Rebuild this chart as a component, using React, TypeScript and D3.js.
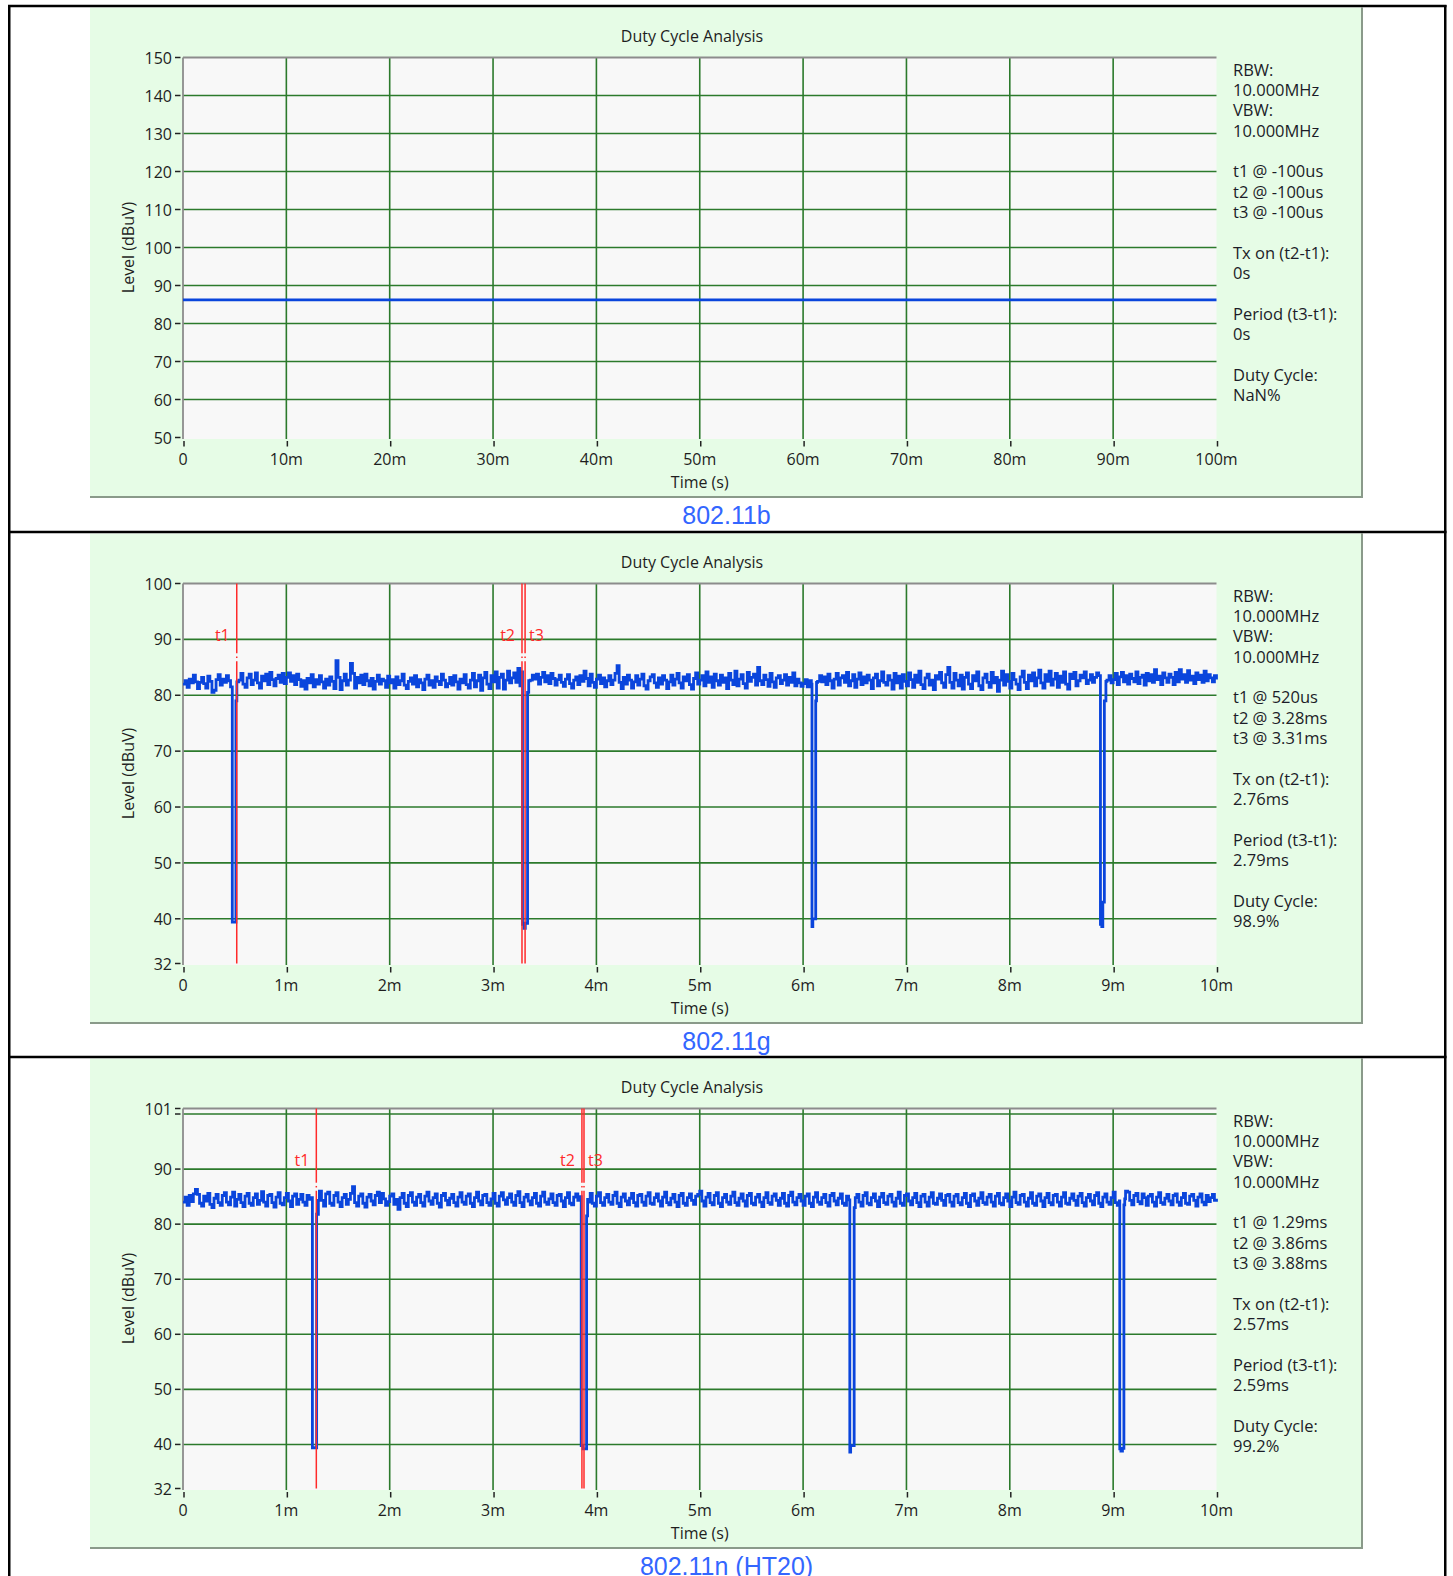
import React from 'react';
import * as d3 from 'd3';

const W = 1453;
const H = 1576;

// ---------- Panel 1 (802.11b) ----------
const p1XTicks = [0, 10, 20, 30, 40, 50, 60, 70, 80, 90, 100];
const p1XLabels = ['0', '10m', '20m', '30m', '40m', '50m', '60m', '70m', '80m', '90m', '100m'];
const p1YTicks = [150, 140, 130, 120, 110, 100, 90, 80, 70, 60, 50];
const p1YLabels = ['150', '140', '130', '120', '110', '100', '90', '80', '70', '60', '50'];
const p1YGrid = [140, 130, 120, 110, 100, 90, 80, 70, 60];
const p1Trace: [number, number][] = [[0, 86.2], [100, 86.2]];
const p1Info = ['RBW:', '10.000MHz', 'VBW:', '10.000MHz', '', 't1 @ -100us', 't2 @ -100us', 't3 @ -100us', '', 'Tx on (t2-t1):', '0s', '', 'Period (t3-t1):', '0s', '', 'Duty Cycle:', 'NaN%'];

// ---------- Panel 2 (802.11g) ----------
const msXTicks = [0, 1, 2, 3, 4, 5, 6, 7, 8, 9, 10];
const msXLabels = ['0', '1m', '2m', '3m', '4m', '5m', '6m', '7m', '8m', '9m', '10m'];
const p2YTicks = [100, 90, 80, 70, 60, 50, 40, 32];
const p2YLabels = ['100', '90', '80', '70', '60', '50', '40', '32'];
const p2YGrid = [90, 80, 70, 60, 50, 40];
const p2SampleStep = 0.02;
const p2Noise = [
  82.0, 82.6, 81.4, 82.9, 82.2, 83.6, 82.4, 81.2, 82.3, 83.2,
  82.1, 81.3, 83.4, 82.5, 80.5, 80.9, 82.8, 83.7, 81.8, 82.9,
  82.3, 83.5, 82.6, 81.5, 82.4, 82.4, 82.4, 82.7, 83.9, 82.0,
  81.4, 83.1, 83.8, 81.9, 82.7, 84.0, 82.2, 81.3, 83.4, 82.6,
  83.8, 81.9, 84.1, 82.8, 81.7, 83.0, 83.6, 82.3, 83.9, 82.1,
  83.2, 84.0, 82.5, 83.5, 81.9, 83.8, 82.8, 81.6, 82.6, 81.1,
  83.0, 82.2, 83.7, 81.5, 82.8, 82.0, 83.5, 82.4, 81.3, 82.9,
  81.8, 83.3, 82.5, 81.2, 86.2, 83.2, 81.0, 82.6, 83.8, 81.8,
  82.7, 85.7, 83.9, 81.3, 83.2, 82.2, 83.6, 81.9, 83.8, 82.6,
  81.7, 83.0, 81.1, 82.5, 83.6, 82.0, 82.9, 82.6, 81.4, 83.4,
  82.2, 82.8, 81.3, 83.3, 81.9, 82.6, 83.8, 81.8, 81.2, 82.5,
  83.1, 82.0, 83.5, 81.5, 82.8, 82.2, 81.0, 82.9, 83.6, 81.8,
  82.6, 81.4, 83.3, 82.5, 81.9, 83.8, 82.7, 81.5, 82.1, 83.2,
  81.8, 83.5, 82.4, 81.1, 82.9, 82.2, 83.7, 81.9, 81.3, 82.7,
  83.9, 81.5, 82.6, 83.6, 80.9, 83.1, 84.1, 82.0, 81.2, 83.5,
  82.4, 84.2, 81.3, 83.2, 83.8, 81.1, 82.7, 84.3, 82.2, 83.1,
  84.0, 82.3, 84.8, 81.7, 84.2, 82.5, 82.5, 82.5, 82.7, 83.6,
  82.9, 83.8, 82.0, 83.2, 84.1, 82.4, 83.5, 82.1, 83.9, 83.0,
  81.8, 82.8, 83.6, 82.3, 81.6, 82.9, 83.7, 82.1, 81.3, 82.7,
  83.3, 81.9, 83.5, 82.5, 84.3, 83.0, 81.7, 83.8, 82.3, 81.4,
  82.9, 83.6, 82.1, 83.1, 81.5, 82.6, 83.5, 81.9, 82.7, 83.9,
  85.3, 82.3, 81.2, 83.2, 82.0, 83.6, 82.7, 81.3, 82.4, 83.5,
  81.8, 82.9, 83.8, 81.7, 81.1, 82.6, 83.3, 83.7, 82.2, 81.4,
  83.1, 82.0, 83.5, 82.7, 81.2, 82.4, 83.6, 81.8, 82.9, 83.9,
  82.2, 81.3, 83.3, 82.6, 83.7, 81.9, 81.1, 83.0, 84.0, 82.0,
  82.7, 83.5, 81.7, 84.2, 82.3, 83.3, 81.4, 83.8, 82.6, 81.8,
  83.6, 82.3, 83.1, 81.2, 83.9, 82.7, 81.9, 84.3, 81.7, 82.9,
  83.7, 82.1, 81.3, 84.1, 82.5, 83.2, 83.8, 81.8, 85.0, 82.6,
  81.9, 83.6, 82.8, 81.6, 83.9, 82.4, 81.4, 83.1, 83.5, 82.1,
  82.7, 83.7, 81.8, 83.2, 82.3, 84.0, 81.7, 82.9, 82.2, 81.6,
  82.1, 82.8, 81.5, 82.6, 82.0, 82.3, 82.3, 82.5, 83.5, 82.4,
  83.3, 81.9, 83.8, 82.6, 81.3, 82.9, 83.9, 81.8, 83.1, 83.5,
  82.3, 84.1, 81.7, 82.6, 83.7, 81.4, 82.9, 84.0, 81.9, 83.3,
  82.2, 83.6, 82.7, 81.2, 83.1, 83.8, 81.7, 82.6, 84.2, 82.3,
  81.8, 83.5, 82.7, 81.1, 83.9, 82.2, 83.4, 81.3, 83.7, 82.5,
  81.7, 84.0, 82.8, 81.4, 83.6, 82.3, 84.3, 81.9, 81.2, 83.1,
  83.8, 81.8, 82.7, 81.0, 83.5, 82.9, 84.1, 82.2, 81.4, 83.7,
  85.0, 82.3, 81.3, 83.9, 82.7, 81.7, 83.6, 81.1, 83.2, 84.0,
  82.0, 81.2, 83.5, 82.6, 84.2, 81.7, 81.0, 83.1, 83.8, 82.3,
  81.4, 84.1, 82.2, 83.2, 80.7, 82.7, 84.3, 81.8, 83.7, 82.5,
  81.3, 83.9, 82.8, 82.0, 81.0, 83.3, 84.3, 82.3, 81.2, 83.6,
  82.6, 84.0, 81.7, 83.1, 84.5, 82.2, 81.3, 83.7, 82.5, 84.3,
  81.8, 82.9, 83.9, 81.4, 83.4, 82.3, 84.2, 82.0, 81.1, 83.8,
  83.0, 84.1, 81.7, 82.6, 83.6, 83.1, 84.2, 82.1, 82.7, 83.7,
  82.3, 83.2, 84.0, 83.5, 82.5, 82.5, 82.5, 82.7, 83.5, 82.2,
  82.8, 83.9, 81.9, 83.3, 84.1, 82.4, 83.5, 82.0, 83.8, 83.0,
  82.4, 84.2, 82.1, 83.2, 83.6, 81.8, 83.9, 82.6, 83.7, 82.3,
  84.6, 82.8, 83.4, 81.9, 84.0, 83.1, 82.3, 83.8, 83.2, 81.9,
  84.1, 82.4, 84.6, 82.9, 83.7, 82.3, 84.4, 82.7, 83.4, 82.1,
  84.0, 82.8, 83.6, 82.3, 84.3, 82.6, 83.7, 83.1, 82.4, 83.5,
  82.8,
];
const p2Dips: [number, number][][] = [
  [[0.477, 39.4], [0.512, 79.0], [0.521, 82.4]],
  [[3.285, 39.0], [3.300, 38.3], [3.312, 39.2], [3.334, 80.5], [3.345, 82.6]],
  [[6.086, 38.6], [6.094, 40.0], [6.122, 79.0], [6.130, 82.3]],
  [[8.877, 39.0], [8.890, 38.6], [8.900, 43.0], [8.915, 79.0], [8.930, 82.5]],
];
const p2Markers = [
  { name: 't1', t: 0.52, side: 'left' },
  { name: 't2', t: 3.28, side: 'left' },
  { name: 't3', t: 3.31, side: 'right' },
];
const p2Info = ['RBW:', '10.000MHz', 'VBW:', '10.000MHz', '', 't1 @ 520us', 't2 @ 3.28ms', 't3 @ 3.31ms', '', 'Tx on (t2-t1):', '2.76ms', '', 'Period (t3-t1):', '2.79ms', '', 'Duty Cycle:', '98.9%'];

// ---------- Panel 3 (802.11n HT20) ----------
const p3YTicks = [101, 100, 90, 80, 70, 60, 50, 40, 32];
const p3YLabels = ['101', '', '90', '80', '70', '60', '50', '40', '32'];
const p3YGrid = [100, 90, 80, 70, 60, 50, 40];
const p3SampleStep = 0.02;
const p3Noise = [
  84.0, 84.9, 83.4, 85.2, 84.1, 85.5, 86.3, 85.4, 83.8, 83.3,
  85.1, 84.2, 85.6, 83.6, 83.0, 84.7, 85.4, 83.9, 83.4, 85.2,
  85.7, 84.0, 83.5, 84.9, 85.8, 83.3, 84.5, 85.4, 83.9, 83.2,
  85.1, 85.6, 83.8, 83.4, 84.8, 85.5, 83.6, 84.3, 85.9, 84.0,
  83.3, 85.2, 85.4, 83.9, 83.1, 84.9, 85.7, 83.8, 83.5, 84.8,
  85.6, 84.2, 83.2, 85.1, 85.5, 83.6, 84.5, 85.4, 84.0, 83.4,
  85.2, 84.5, 84.8, 84.3, 84.3, 84.3, 86.0, 84.3, 83.3, 85.5,
  85.8, 83.8, 83.4, 85.2, 85.7, 84.0, 83.2, 84.8, 85.4, 83.6,
  84.5, 85.6, 86.8, 83.9, 83.3, 85.1, 85.5, 83.8, 83.1, 84.9,
  85.4, 84.2, 83.5, 85.2, 85.8, 83.9, 85.6, 84.6, 83.4, 84.1,
  85.1, 85.5, 83.6, 84.5, 82.7, 84.8, 85.6, 83.8, 83.2, 85.2,
  85.7, 84.0, 83.4, 84.9, 85.4, 83.9, 83.3, 85.1, 85.8, 84.2,
  83.6, 84.8, 85.5, 83.8, 83.1, 85.2, 85.6, 84.3, 83.5, 84.7,
  85.4, 83.9, 83.3, 84.9, 85.7, 84.0, 83.6, 85.1, 85.5, 83.8,
  83.2, 84.8, 85.8, 84.2, 83.5, 85.2, 85.4, 83.9, 83.4, 84.6,
  85.6, 83.8, 83.3, 85.1, 85.7, 84.4, 83.6, 84.8, 85.5, 84.0,
  83.4, 85.2, 85.9, 83.9, 83.2, 84.9, 85.4, 84.2, 83.5, 84.8,
  85.6, 83.8, 83.3, 85.1, 85.8, 84.0, 83.6, 84.6, 85.5, 83.9,
  83.4, 85.2, 85.4, 84.2, 83.2, 84.8, 85.7, 83.8, 83.5, 84.9,
  85.5, 84.3, 85.0, 84.5, 84.5, 84.5, 84.0, 85.6, 83.8, 83.3,
  85.1, 85.7, 83.9, 83.4, 84.8, 85.4, 84.0, 83.6, 85.2, 85.8,
  83.8, 83.2, 84.9, 85.5, 84.2, 83.5, 84.7, 85.6, 83.9, 83.3,
  85.2, 85.4, 84.0, 83.4, 85.1, 85.7, 83.8, 83.6, 84.8, 85.5,
  84.2, 83.3, 84.9, 85.8, 83.9, 83.5, 84.7, 85.4, 84.0, 83.2,
  85.2, 85.6, 83.8, 83.4, 84.8, 85.5, 84.3, 83.6, 85.1, 85.4,
  86.0, 84.2, 83.3, 84.9, 85.6, 83.9, 83.5, 85.2, 85.7, 83.8,
  83.2, 84.8, 85.4, 84.0, 83.6, 85.1, 85.8, 83.9, 83.4, 84.7,
  85.5, 84.2, 83.3, 85.2, 85.6, 83.8, 83.5, 84.9, 85.4, 84.0,
  83.2, 84.8, 85.7, 83.9, 83.6, 85.1, 85.5, 84.3, 83.4, 84.7,
  85.6, 83.8, 83.3, 85.2, 85.8, 84.0, 83.5, 84.8, 85.4, 84.2,
  83.4, 85.1, 85.5, 83.8, 83.2, 84.9, 85.7, 84.0, 83.6, 84.8,
  85.4, 83.9, 83.3, 85.2, 85.6, 84.2, 83.5, 84.7, 85.5, 83.8,
  83.4, 85.1, 84.4, 84.5, 84.5, 84.5, 85.4, 84.0, 83.3, 85.2,
  85.7, 83.8, 83.5, 84.8, 85.5, 84.2, 83.2, 84.9, 85.6, 83.9,
  83.6, 85.1, 85.4, 84.0, 83.3, 84.7, 85.8, 83.8, 83.4, 85.2,
  85.5, 84.2, 83.5, 84.8, 85.6, 83.9, 83.2, 85.1, 85.4, 84.0,
  83.3, 84.9, 85.7, 83.8, 83.6, 84.7, 85.5, 84.3, 83.4, 85.2,
  85.4, 84.0, 83.3, 85.1, 85.4, 83.9, 83.5, 84.8, 85.6, 83.8,
  83.2, 85.2, 85.5, 84.2, 83.4, 84.7, 85.7, 83.9, 83.6, 84.9,
  85.4, 84.0, 83.3, 85.1, 85.6, 83.8, 83.5, 84.8, 85.5, 84.2,
  83.2, 84.9, 85.8, 83.9, 83.6, 85.2, 85.4, 84.0, 83.3, 84.7,
  85.7, 83.8, 83.4, 85.1, 85.5, 84.2, 83.2, 84.8, 85.6, 83.9,
  83.5, 85.2, 85.4, 84.0, 83.3, 84.9, 85.7, 83.8, 83.6, 84.7,
  85.5, 84.3, 83.4, 85.1, 85.6, 83.9, 83.3, 84.8, 85.4, 84.2,
  83.5, 85.2, 85.7, 83.8, 83.2, 84.9, 85.5, 84.0, 83.6, 84.8,
  85.8, 83.9, 83.4, 84.2, 84.2, 84.2, 86.0, 85.8, 84.3, 83.5,
  85.2, 85.6, 84.1, 83.7, 85.5, 84.8, 83.4, 85.1, 85.4, 84.0,
  83.3, 84.9, 85.7, 83.9, 83.6, 84.7, 85.4, 84.2, 83.5, 85.2,
  85.5, 84.0, 83.4, 84.8, 85.6, 83.8, 83.6, 85.1, 85.4, 84.3,
  83.3, 84.9, 85.5, 84.0, 83.5, 85.2, 84.1, 84.8, 85.4, 84.3,
  84.6,
];
const p3Dips: [number, number][][] = [
  [[1.252, 39.4], [1.293, 81.8], [1.310, 84.3]],
  [[3.853, 39.8], [3.870, 39.2], [3.905, 81.5], [3.915, 84.5]],
  [[6.452, 38.6], [6.460, 39.8], [6.494, 83.0], [6.505, 84.8]],
  [[9.064, 39.2], [9.075, 38.8], [9.090, 39.3], [9.104, 83.5], [9.112, 84.6]],
];
const p3Markers = [
  { name: 't1', t: 1.29, side: 'left' },
  { name: 't2', t: 3.86, side: 'left' },
  { name: 't3', t: 3.88, side: 'right' },
];
const p3Info = ['RBW:', '10.000MHz', 'VBW:', '10.000MHz', '', 't1 @ 1.29ms', 't2 @ 3.86ms', 't3 @ 3.88ms', '', 'Tx on (t2-t1):', '2.57ms', '', 'Period (t3-t1):', '2.59ms', '', 'Duty Cycle:', '99.2%'];

const captions = ['802.11b', '802.11g', '802.11n (HT20)'];
const markerLevel = 86.8;

function buildTrace(noise: number[], step: number, dips: [number, number][][], tEnd: number): [number, number][] {
  const pts: [number, number][] = [];
  noise.forEach((v, i) => {
    const t = i * step;
    const inDip = dips.some((d) => t >= d[0][0] && t <= d[d.length - 1][0]);
    if (!inDip) pts.push([t, v]);
  });
  dips.forEach((d) => d.forEach((p) => pts.push(p)));
  pts.sort((a, b) => a[0] - b[0]);
  if (pts[pts.length - 1][0] < tEnd) pts.push([tEnd, pts[pts.length - 1][1]]);
  return pts;
}

const FONT = "'Open Sans', 'Noto Sans', sans-serif";
const GRID = '#2c7a2c';
const TRACE = '#0a45dc';
const RED = '#ff2a2a';
const FS = 16;

type PanelProps = {
  y0: number;
  xMax: number;
  xTicks: number[];
  xLabels: string[];
  yDomain: [number, number];
  yTicks: number[];
  yLabels: string[];
  yGrid: number[];
  trace: [number, number][];
  markers: { name: string; t: number; side: string }[];
  info: string[];
  caption: string;
};

function Panel(p: PanelProps) {
  const left = 183;
  const right = 1216.5;
  const top = p.y0 + 51.5;
  const bottom = p.y0 + 431.5;
  const x = d3.scaleLinear().domain([0, p.xMax]).range([left, right]);
  const y = d3.scaleLinear().domain(p.yDomain).range([bottom, top]);
  const line = d3
    .line<[number, number]>()
    .x((d) => x(d[0]))
    .y((d) => y(d[1]))
    .curve(d3.curveStepAfter);
  const gapY = y(markerLevel);
  const cx = (left + right) / 2;
  return (
    <g>
      <rect x={90} y={p.y0 + 1.5} width={1272} height={489.5} fill="#e6fce6" />
      <line x1={1362} x2={1362} y1={p.y0 + 1.5} y2={p.y0 + 491} stroke="#8a9a8a" strokeWidth={2} />
      <line x1={90} x2={1363} y1={p.y0 + 491} y2={p.y0 + 491} stroke="#8a9a8a" strokeWidth={2} />
      <rect x={left} y={top} width={right - left} height={bottom - top + 1.5} fill="#f8f8f8" />
      {p.yGrid.map((v) => (
        <line key={'gy' + v} x1={left} x2={right} y1={y(v)} y2={y(v)} stroke={GRID} strokeWidth={1.6} />
      ))}
      {p.xTicks.slice(1, -1).map((v) => (
        <line key={'gx' + v} x1={x(v)} x2={x(v)} y1={top} y2={bottom + 1.5} stroke={GRID} strokeWidth={1.6} />
      ))}
      <line x1={left} x2={right} y1={top} y2={top} stroke="#8c8c8c" strokeWidth={1.8} />
      <line x1={left} x2={left} y1={top} y2={bottom + 1.5} stroke="#8c8c8c" strokeWidth={1.8} />
      {p.xTicks.map((v, i) => (
        <g key={'xt' + v}>
          <line x1={x(v) + 1} x2={x(v) + 1} y1={bottom + 3.5} y2={bottom + 9} stroke="#222" strokeWidth={1.5} />
          <text x={x(v)} y={bottom + 21} textAnchor="middle" dominantBaseline="central" fontSize={FS} fill="#1e1e1e" fontFamily={FONT}>
            {p.xLabels[i]}
          </text>
        </g>
      ))}
      {p.yTicks.map((v, i) => (
        <g key={'yt' + v}>
          <line x1={left - 8} x2={left - 2.5} y1={y(v)} y2={y(v)} stroke="#222" strokeWidth={1.5} />
          {p.yLabels[i] ? (
            <text x={left - 11} y={y(v)} textAnchor="end" dominantBaseline="central" fontSize={FS} fill="#1e1e1e" fontFamily={FONT}>
              {p.yLabels[i]}
            </text>
          ) : null}
        </g>
      ))}
      <path d={line(p.trace) || ''} fill="none" stroke={TRACE} strokeWidth={2.8} strokeLinejoin="miter" />
      {p.markers.map((m) => {
        const mx = x(m.t);
        return (
          <g key={m.name}>
            <line x1={mx} x2={mx} y1={top} y2={gapY - 4} stroke={RED} strokeWidth={1.5} />
            <line x1={mx} x2={mx} y1={gapY + 4} y2={bottom} stroke={RED} strokeWidth={1.5} />
            <rect x={mx - 0.75} y={gapY - 0.75} width={1.5} height={1.5} fill={RED} />
            <text
              x={m.side === 'left' ? mx - 7 : mx + 4}
              y={top + 51}
              textAnchor={m.side === 'left' ? 'end' : 'start'}
              dominantBaseline="central"
              fontSize={FS}
              fill={RED}
              fontFamily={FONT}
            >
              {m.name}
            </text>
          </g>
        );
      })}
      <text x={692} y={p.y0 + 30} textAnchor="middle" dominantBaseline="central" fontSize={FS} fill="#1e1e1e" fontFamily={FONT}>
        Duty Cycle Analysis
      </text>
      <text x={cx} y={bottom + 44} textAnchor="middle" dominantBaseline="central" fontSize={FS} fill="#1e1e1e" fontFamily={FONT}>
        Time (s)
      </text>
      <text
        transform={`translate(128,${(top + bottom) / 2}) rotate(-90)`}
        textAnchor="middle"
        dominantBaseline="central"
        fontSize={FS}
        fill="#1e1e1e"
        fontFamily={FONT}
      >
        Level (dBuV)
      </text>
      {p.info.map((s, i) =>
        s ? (
          <text key={'inf' + i} x={1233} y={p.y0 + 63 + i * 20.35} dominantBaseline="central" fontSize={16.5} fill="#1c1c28" fontFamily={FONT}>
            {s}
          </text>
        ) : null
      )}
      <text x={726.5} y={p.y0 + 508.5} textAnchor="middle" dominantBaseline="central" fontSize={25} fill="#3366ff" fontFamily="'Liberation Sans', Arial, sans-serif">
        {p.caption}
      </text>
    </g>
  );
}

export default function App() {
  const trace2 = buildTrace(p2Noise, p2SampleStep, p2Dips, 10);
  const trace3 = buildTrace(p3Noise, p3SampleStep, p3Dips, 10);
  const origins = [6, 532, 1057];
  return (
    <svg width={W} height={H} style={{ position: 'absolute', left: 0, top: 0, background: '#fff' }}>
      <Panel y0={origins[0]} xMax={100} xTicks={p1XTicks} xLabels={p1XLabels} yDomain={[50, 150]} yTicks={p1YTicks} yLabels={p1YLabels} yGrid={p1YGrid} trace={p1Trace} markers={[]} info={p1Info} caption={captions[0]} />
      <Panel y0={origins[1]} xMax={10} xTicks={msXTicks} xLabels={msXLabels} yDomain={[32, 100]} yTicks={p2YTicks} yLabels={p2YLabels} yGrid={p2YGrid} trace={trace2} markers={p2Markers} info={p2Info} caption={captions[1]} />
      <Panel y0={origins[2]} xMax={10} xTicks={msXTicks} xLabels={msXLabels} yDomain={[32, 101]} yTicks={p3YTicks} yLabels={p3YLabels} yGrid={p3YGrid} trace={trace3} markers={p3Markers} info={p3Info} caption={captions[2]} />
      {origins.map((o) => (
        <line key={'sep' + o} x1={8} x2={1446.5} y1={o} y2={o} stroke="#000" strokeWidth={2.5} />
      ))}
      <line x1={9.25} x2={9.25} y1={5} y2={H} stroke="#000" strokeWidth={2.5} />
      <line x1={1445.25} x2={1445.25} y1={5} y2={H} stroke="#000" strokeWidth={2.5} />
    </svg>
  );
}
